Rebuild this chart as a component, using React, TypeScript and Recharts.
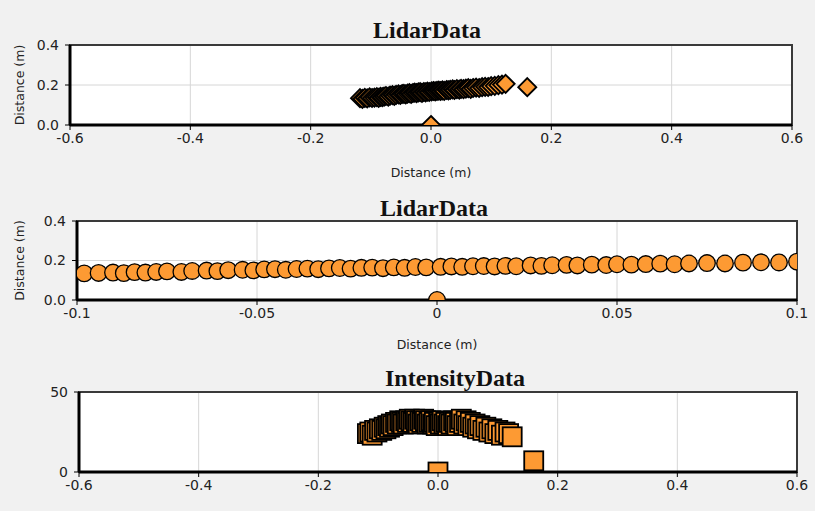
import React from "react";
import {
  ScatterChart,
  Scatter,
  XAxis,
  YAxis,
  CartesianGrid,
  ReferenceArea,
} from "recharts";

// lidar scan points (m)
const lidarX = [
  -0.118, -0.114, -0.11, -0.106, -0.102, -0.098, -0.094, -0.09, -0.087, -0.084,
  -0.081, -0.078, -0.075, -0.071, -0.068, -0.064, -0.061, -0.058, -0.054, -0.051,
  -0.048, -0.045, -0.042, -0.039, -0.036, -0.033, -0.03, -0.027, -0.024, -0.021,
  -0.018, -0.015, -0.012, -0.009, -0.006, -0.003, 0.001, 0.004, 0.007, 0.01,
  0.013, 0.016, 0.019, 0.022, 0.026, 0.029, 0.032, 0.036, 0.039, 0.043,
  0.047, 0.05, 0.054, 0.058, 0.062, 0.066, 0.07, 0.075, 0.08, 0.085,
  0.09, 0.095, 0.1, 0.106, 0.112, 0.118, 0.124, 0.16, 0,
];
const lidarY = [
  0.134, 0.131, 0.136, 0.133, 0.138, 0.135, 0.137, 0.139, 0.136, 0.141,
  0.139, 0.142, 0.145, 0.142, 0.147, 0.149, 0.146, 0.151, 0.153, 0.15,
  0.155, 0.156, 0.153, 0.157, 0.159, 0.156, 0.16, 0.162, 0.159, 0.163,
  0.164, 0.161, 0.165, 0.163, 0.167, 0.165, 0.168, 0.17, 0.168, 0.171,
  0.172, 0.17, 0.173, 0.171, 0.175, 0.173, 0.176, 0.178, 0.175, 0.179,
  0.177, 0.181, 0.179, 0.182, 0.184, 0.181, 0.185, 0.187, 0.185, 0.189,
  0.191, 0.19, 0.194, 0.196, 0.199, 0.202, 0.206, 0.189, 0,
];
const intensity = [
  24, 25, 23, 26, 25, 27, 26, 28, 27, 29,
  28, 30, 29, 31, 30, 32, 31, 30, 32, 31,
  33, 32, 31, 33, 32, 30, 32, 31, 33, 32,
  30, 31, 32, 30, 31, 29, 31, 30, 32, 30,
  31, 29, 31, 30, 32, 31, 29, 31, 33, 30,
  32, 29, 31, 28, 30, 27, 29, 26, 28, 25,
  27, 24, 26, 23, 25, 24, 22, 7, 0,
];

const wideTicks = [-0.6, -0.4, -0.2, 0, 0.2, 0.4, 0.6];
const zoomTicks = [-0.1, -0.05, 0, 0.05, 0.1];
const distTicks = [0, 0.2, 0.4];
const intensityTicks = [0, 50];

const lidarPoints = lidarX.map((x, i) => ({ x, y: lidarY[i] }));
const intensityPoints = lidarX.map((x, i) => ({ x, y: intensity[i] }));

const ORANGE = "#fd9a33";
const OUTLINE = "#000";

const tickStyle = { fill: "#222", fontSize: 14, fontFamily: "DejaVu Sans" };
const labelStyle = { fill: "#222", fontSize: 12.5, fontFamily: "DejaVu Sans" };

const Diamond = (p: any) => (
  <path
    d={`M${p.cx},${p.cy - 9}L${p.cx + 9},${p.cy}L${p.cx},${p.cy + 9}L${p.cx - 9},${p.cy}Z`}
    fill={ORANGE}
    stroke={OUTLINE}
    strokeWidth={1.9}
  />
);

const Circle = (p: any) => (
  <circle cx={p.cx} cy={p.cy} r={8.3} fill={ORANGE} stroke={OUTLINE} strokeWidth={1.3} />
);

const Square = (p: any) => (
  <rect x={p.cx - 9.5} y={p.cy - 9.5} width={19} height={19} fill={ORANGE} stroke={OUTLINE} strokeWidth={1.8} />
);

interface PanelProps {
  top: number;
  height: number;
  margin: { top: number; right: number; bottom: number; left: number };
  yWidth: number;
  xHeight: number;
  xDomain: [number, number];
  yDomain: [number, number];
  xTicks: number[];
  yTicks: number[];
  xFormat: (v: number) => string;
  yFormat: (v: number) => string;
  data: { x: number; y: number }[];
  shape: any;
  labels: boolean;
  labelOffset?: number;
}

function Panel(p: PanelProps) {
  return (
    <div style={{ position: "absolute", left: 0, top: p.top }}>
      <ScatterChart width={815} height={p.height} margin={p.margin}>
        <CartesianGrid stroke="#d6d6d6" fill="#ffffff" />
        <ReferenceArea
          x1={p.xDomain[0]}
          x2={p.xDomain[1]}
          y1={p.yDomain[0]}
          y2={p.yDomain[1]}
          fill="none"
          stroke="#3a3a3a"
          strokeWidth={2}
          fillOpacity={0}
        />
        <XAxis
          type="number"
          dataKey="x"
          domain={p.xDomain}
          ticks={p.xTicks}
          allowDataOverflow
          interval={0}
          height={p.xHeight}
          tickFormatter={p.xFormat}
          tick={tickStyle}
          tickSize={5}
          tickMargin={3}
          axisLine={{ stroke: "#000", strokeWidth: 3 }}
          tickLine={{ stroke: "#000" }}
          label={
            p.labels
              ? { value: "Distance (m)", position: "insideBottom", offset: p.labelOffset ?? 4, style: labelStyle }
              : undefined
          }
        />
        <YAxis
          type="number"
          dataKey="y"
          domain={p.yDomain}
          ticks={p.yTicks}
          allowDataOverflow
          interval={0}
          width={p.yWidth}
          tickFormatter={p.yFormat}
          tick={tickStyle}
          tickSize={5}
          tickMargin={6}
          axisLine={{ stroke: "#000", strokeWidth: 3 }}
          tickLine={{ stroke: "#000" }}
          label={
            p.labels
              ? {
                  value: "Distance (m)",
                  angle: -90,
                  position: "insideLeft",
                  offset: 20,
                  style: { ...labelStyle, textAnchor: "middle" },
                }
              : undefined
          }
        />
        <Scatter data={p.data} shape={p.shape} isAnimationActive={false} />
      </ScatterChart>
    </div>
  );
}

const titleStyle: React.CSSProperties = {
  position: "absolute",
  transform: "translate(-50%, -50%)",
  fontFamily: "'Liberation Serif', serif",
  fontWeight: "bold",
  fontSize: 24,
  lineHeight: 1,
  color: "#111",
  whiteSpace: "nowrap",
};

export default function App() {
  return (
    <div
      style={{
        position: "absolute",
        left: 0,
        top: 0,
        width: 815,
        height: 511,
        background: "#f1f1f1",
        overflow: "hidden",
      }}
    >
      <Panel
        top={0}
        height={190}
        margin={{ top: 45, right: 23, bottom: 8, left: 0 }}
        yWidth={70}
        xHeight={57}
        xDomain={[-0.6, 0.6]}
        yDomain={[0, 0.4]}
        xTicks={wideTicks}
        yTicks={distTicks}
        xFormat={(v) => v.toFixed(1)}
        yFormat={(v) => v.toFixed(1)}
        data={lidarPoints}
        shape={Diamond}
        labels
        labelOffset={5}
      />
      <Panel
        top={180}
        height={180}
        margin={{ top: 41, right: 18, bottom: 10, left: 0 }}
        yWidth={77}
        xHeight={50}
        xDomain={[-0.1, 0.1]}
        yDomain={[0, 0.4]}
        xTicks={zoomTicks}
        yTicks={distTicks}
        xFormat={(v) => String(v)}
        yFormat={(v) => v.toFixed(1)}
        data={lidarPoints}
        shape={Circle}
        labels
        labelOffset={1}
      />
      <Panel
        top={360}
        height={151}
        margin={{ top: 32, right: 18, bottom: 9, left: 0 }}
        yWidth={79}
        xHeight={30}
        xDomain={[-0.6, 0.6]}
        yDomain={[0, 50]}
        xTicks={wideTicks}
        yTicks={intensityTicks}
        xFormat={(v) => v.toFixed(1)}
        yFormat={(v) => String(v)}
        data={intensityPoints}
        shape={Square}
        labels={false}
      />
      <div style={{ ...titleStyle, left: 427, top: 30 }}>LidarData</div>
      <div style={{ ...titleStyle, left: 434, top: 208 }}>LidarData</div>
      <div style={{ ...titleStyle, left: 455, top: 378 }}>IntensityData</div>
    </div>
  );
}
